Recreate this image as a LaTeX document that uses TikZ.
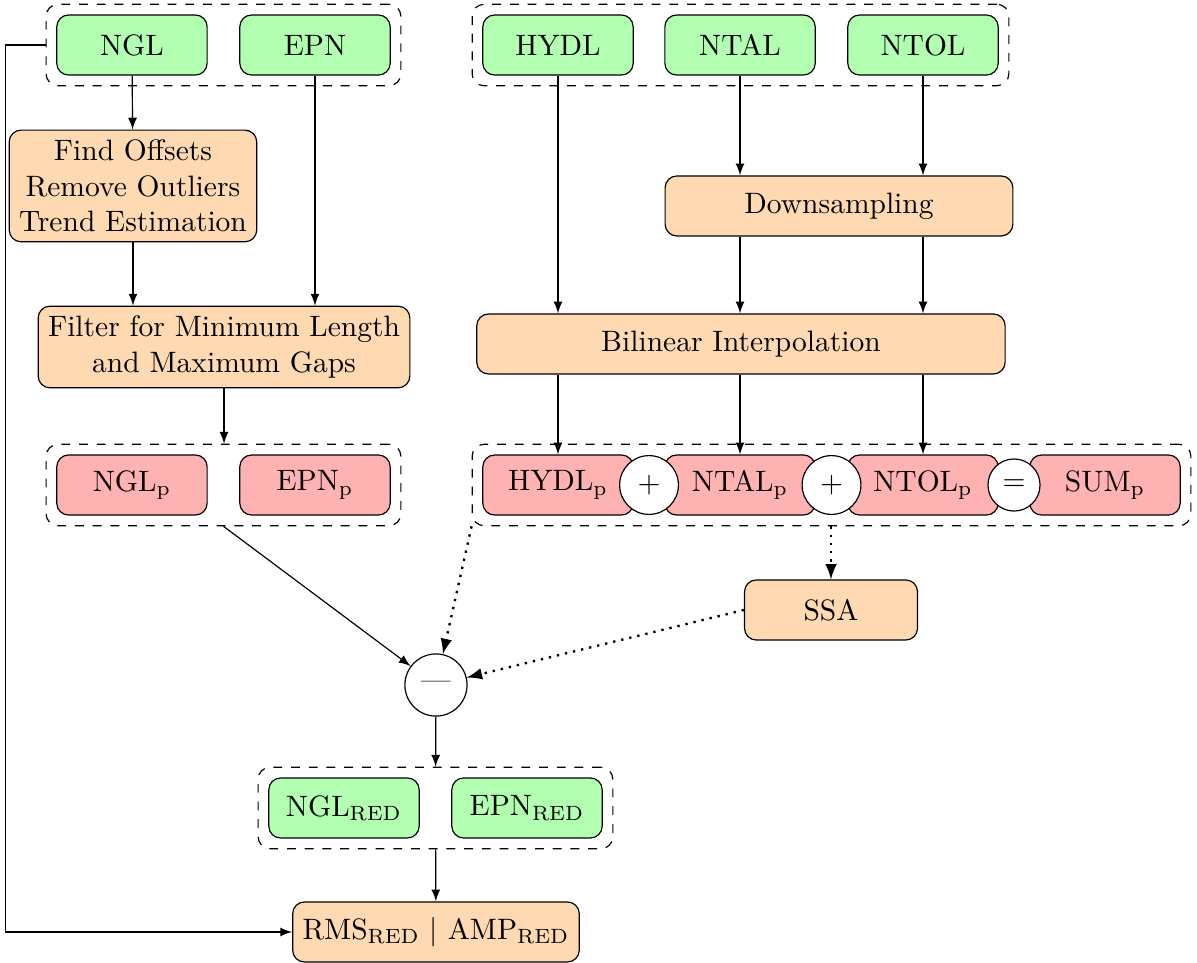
\documentclass[tikz,border=0pt]{standalone}
\usetikzlibrary{fit,calc}

\tikzset{
    box/.style={draw, rounded corners=4pt, minimum height=0.715cm, align=center},
    gbox/.style={box, fill=green!30, minimum width=1.79cm},
    rbox/.style={box, fill=red!30, minimum width=1.79cm},
    obox/.style={box, fill=orange!30},
    grp/.style={draw, dashed, rounded corners=4pt, inner sep=0.12cm},
    op/.style={draw, circle, fill=white, inner sep=0pt},
    arr/.style={-latex},
    dotarr/.style={-latex, dotted, thick},
}

\begin{document}
\begin{tikzpicture}
        \useasboundingbox (0,0) rectangle (14.25,-11.464);

        % Input stations
        \node[gbox] (ngl) at (1.571,-0.536) {NGL};
        \node[gbox] (epn) at (3.75,-0.536) {EPN};
        \node[grp, fit=(ngl) (epn)] (gin) {};

        % Input loading models
        \node[gbox] (hydl) at (6.643,-0.536) {HYDL};
        \node[gbox] (ntal) at (8.81,-0.536) {NTAL};
        \node[gbox] (ntol) at (10.988,-0.536) {NTOL};
        \node[grp, fit=(hydl) (ntol)] (gload) {};

        % Processing steps
        \node[obox] (find) at (1.583,-2.214) {Find Offsets\\Remove Outliers\\Trend Estimation};
        \node[obox] (filt) at (2.667,-4.131) {Filter for Minimum Length\\and Maximum Gaps};
        \node[obox, minimum width=4.14cm] (down) at (9.988,-2.452) {Downsampling};
        \node[obox, minimum width=6.29cm] (bilin) at (8.821,-4.095) {Bilinear Interpolation};

        % Processed series
        \node[rbox] (nglp) at (1.571,-5.774) {NGL$_\mathrm{p}$};
        \node[rbox] (epnp) at (3.75,-5.774) {EPN$_\mathrm{p}$};
        \node[grp, fit=(nglp) (epnp)] (gp) {};

        \node[rbox] (hydlp) at (6.643,-5.774) {HYDL$_\mathrm{p}$};
        \node[rbox] (ntalp) at (8.81,-5.774) {NTAL$_\mathrm{p}$};
        \node[rbox] (ntolp) at (10.988,-5.774) {NTOL$_\mathrm{p}$};
        \node[rbox] (sump) at (13.155,-5.774) {SUM$_\mathrm{p}$};
        \node[grp, fit=(hydlp) (sump)] (gsum) {};

        % Operators between the boxes
        \node[op, minimum size=0.70cm] (plusa) at ($(hydlp.east)!0.5!(ntalp.west)$) {$+$};
        \node[op, minimum size=0.70cm] (plusb) at ($(ntalp.east)!0.5!(ntolp.west)$) {$+$};
        \node[op, minimum size=0.62cm] (eq) at ($(ntolp.east)!0.5!(sump.west)$) {$=$};

        \node[obox, minimum width=2.06cm] (ssa) at (9.893,-7.262) {SSA};
        \node[op, minimum size=0.74cm] (minus) at (5.19,-8.155) {---};

        % Reduced series
        \node[gbox] (nglred) at (4.095,-9.619) {NGL$_\mathrm{RED}$};
        \node[gbox] (epnred) at (6.274,-9.619) {EPN$_\mathrm{RED}$};
        \node[grp, fit=(nglred) (epnred)] (gred) {};

        \node[obox] (rms) at (5.19,-11.095) {RMS$_\mathrm{RED}$ $|$ AMP$_\mathrm{RED}$};

        % Left branch
        \draw[arr] (ngl) -- (find);
        \draw[arr] (find.south) -- (find.south |- filt.north);
        \draw[arr] (epn.south) -- (epn.south |- filt.north);
        \draw[arr] (filt.south) -- (filt.south |- gp.north);

        % Right branch
        \draw[arr] (ntal.south) -- (ntal.south |- down.north);
        \draw[arr] (ntol.south) -- (ntol.south |- down.north);
        \draw[arr] (hydl.south) -- (hydl.south |- bilin.north);
        \draw[arr] (ntal.south |- down.south) -- (ntal.south |- bilin.north);
        \draw[arr] (ntol.south |- down.south) -- (ntol.south |- bilin.north);
        \draw[arr] (hydl.south |- bilin.south) -- (hydlp.north);
        \draw[arr] (ntal.south |- bilin.south) -- (ntalp.north);
        \draw[arr] (ntol.south |- bilin.south) -- (ntolp.north);

        % Reduction
        \draw[dotarr] (ssa.north |- gsum.south) -- (ssa.north);
        \draw[arr] (gp.south) -- (minus);
        \draw[dotarr] (gsum.south west) -- (minus);
        \draw[dotarr] (ssa.west) -- (minus);
        \draw[arr] (minus) -- (gred);
        \draw[arr] (gred) -- (rms);
        \draw[arr] (gin.west) -- ++(-0.476,0) |- (rms.west);
    \end{tikzpicture}
\end{document}
